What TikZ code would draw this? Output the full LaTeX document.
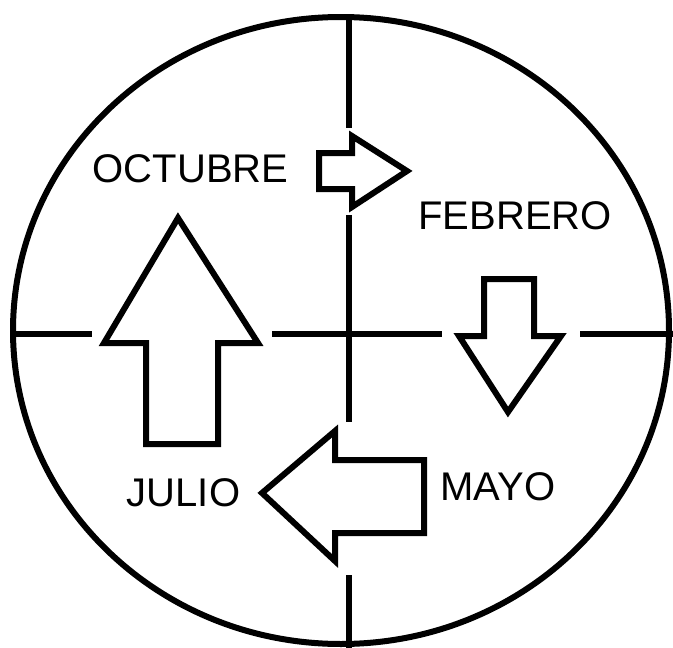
\documentclass[tikz,border=0pt]{standalone}
\usepackage{fontspec}
\setmainfont{Liberation Sans}

\begin{document}
\begin{tikzpicture}[x=1pt,y=-1pt,
                    raya/.style={line width=6pt},
                    flecha/.style={line width=6pt,line join=miter,fill=white},
                    mes/.style={inner sep=0pt,font=\fontsize{40}{40}\selectfont}]
  \useasboundingbox (0,0) rectangle (673,648);

  % circulo y ejes
  \draw[raya] (341,330.5) ellipse [x radius=328,y radius=313.5];
  \draw[raya] (349,17) -- (349,128);
  \draw[raya] (349,215) -- (349,422);
  \draw[raya] (349,575) -- (349,648);
  \draw[raya] (13,334) -- (92,334);
  \draw[raya] (272,334) -- (442,334);
  \draw[raya] (580,334) -- (673,334);

  % flechas
  \draw[flecha] (319,153) -- (352,153) -- (352,136) -- (407,171) -- (352,207) -- (352,189) -- (319,189) -- cycle;
  \draw[flecha] (484,279) -- (534,279) -- (534,336) -- (561,336) -- (508,412) -- (459,336) -- (484,336) -- cycle;
  \draw[flecha] (424,460) -- (424,533) -- (335,533) -- (335,561) -- (262,493) -- (335,431) -- (335,460) -- cycle;
  \draw[flecha] (146,444) -- (218,444) -- (218,343) -- (258,343) -- (178,218) -- (104,343) -- (146,343) -- cycle;

  % meses
  \node[mes] (octubre) at (190.5,169) {OCTUBRE};
  \node[mes] (febrero) at (515,216) {FEBRERO};
  \node[mes] (mayo) at (498,487) {MAYO};
  \node[mes] (julio) at (183.5,492.5) {JULIO};
\end{tikzpicture}
\end{document}
